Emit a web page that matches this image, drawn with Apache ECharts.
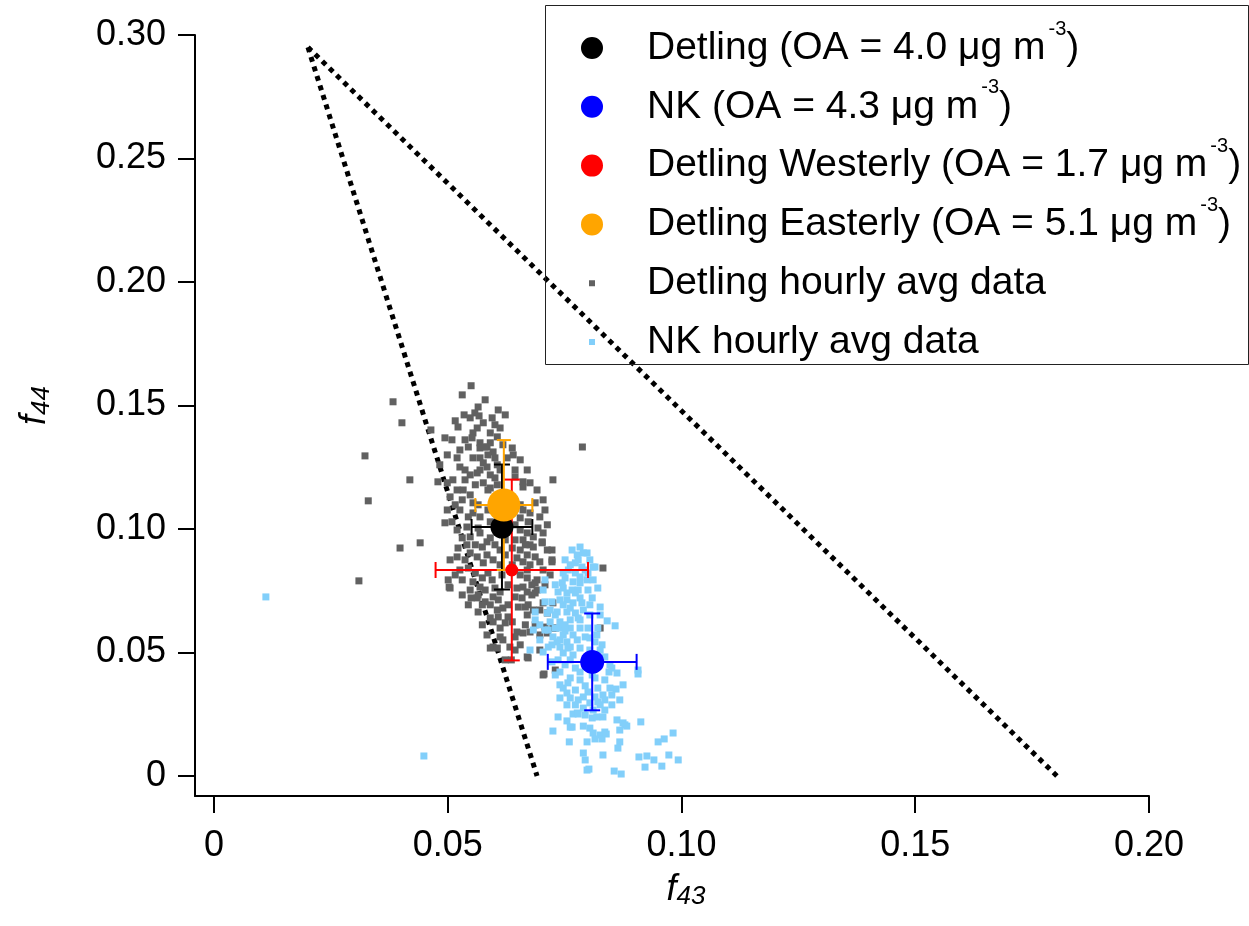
<!DOCTYPE html>
<html><head><meta charset="utf-8">
<script src="https://cdn.jsdelivr.net/npm/echarts@6/dist/echarts.min.js"></script>
<style>html,body{margin:0;padding:0;background:#fff}#c{width:1249px;height:926px}</style>
</head><body><div id="c"></div>
<script>
// ---------- data ----------
const xTicks = [0, 0.05, 0.10, 0.15, 0.20];
const yTicks = [0, 0.05, 0.10, 0.15, 0.20, 0.25, 0.30];
const legendNames = [
  'Detling (OA = 4.0 μg m-3)', 'NK (OA = 4.3 μg m-3)',
  'Detling Westerly (OA = 1.7 μg m-3)', 'Detling Easterly (OA = 5.1 μg m-3)',
  'Detling hourly avg data', 'NK hourly avg data'];
// mean [f43, f44] and error [xerr, yerr]
const detlingMean = [0.0616, 0.1008], detlingErr = [0.0065, 0.0253];
const nkMean = [0.0809, 0.0462], nkErr = [0.0095, 0.0196];
const westMean = [0.0637, 0.0834], westErr = [0.0163, 0.0366];
const eastMean = [0.0620, 0.1097], eastErr = [0.0061, 0.0263];
// triangle boundary lines
const triApex = [0.0201, 0.295];
const triLeftBase = [0.0691, 0];
const triRightBase = [0.1803, 0];

const detlingHourly = [
[0.0550,0.1580],[0.0383,0.1515],[0.0565,0.1494],[0.0402,0.1430],[0.0535,0.1462],[0.0558,0.1470],[0.0567,0.1458],[0.0623,0.1462],
[0.0516,0.1438],[0.0522,0.1413],[0.0464,0.1401],[0.0576,0.1430],[0.0601,0.1422],[0.0612,0.1409],[0.0563,0.1409],[0.0554,0.1389],
[0.0591,0.1389],[0.0606,0.1373],[0.0494,0.1369],[0.0552,0.1369],[0.0569,0.1349],[0.0591,0.1349],[0.0584,0.1332],[0.0544,0.1332],
[0.0569,0.1328],[0.0638,0.1328],[0.0640,0.1300],[0.0597,0.1312],[0.0601,0.1288],[0.0520,0.1288],[0.0569,0.1288],[0.0576,0.1268],
[0.0627,0.1288],[0.0526,0.1251],[0.0537,0.1239],[0.0569,0.1239],[0.0584,0.1251],[0.0644,0.1239],[0.0548,0.1219],[0.0563,0.1227],
[0.0591,0.1219],[0.0601,0.1207],[0.0419,0.1199],[0.0479,0.1191],[0.0661,0.1191],[0.0644,0.1211],[0.0499,0.1187],[0.0533,0.1158],
[0.0548,0.1138],[0.0531,0.1118],[0.0554,0.1106],[0.0576,0.1187],[0.0591,0.1166],[0.0606,0.1179],[0.0661,0.1170],[0.0676,0.1187],
[0.0691,0.1158],[0.0505,0.1130],[0.0516,0.1098],[0.0499,0.1077],[0.0494,0.1025],[0.0509,0.1029],[0.0554,0.1065],[0.0569,0.1049],
[0.0661,0.1077],[0.0676,0.1065],[0.0655,0.1045],[0.0697,0.1049],[0.0713,0.1017],[0.0520,0.0996],[0.0541,0.1008],[0.0531,0.0964],
[0.0548,0.0968],[0.0541,0.0936],[0.0569,0.0984],[0.0584,0.0948],[0.0574,0.0927],[0.0591,0.0964],[0.0601,0.0936],[0.0655,0.0996],
[0.0670,0.0984],[0.0683,0.0968],[0.0661,0.0956],[0.0676,0.0936],[0.0702,0.0948],[0.0713,0.0915],[0.0723,0.0875],[0.0548,0.0903],
[0.0563,0.0887],[0.0537,0.0875],[0.0584,0.0895],[0.0597,0.0875],[0.0576,0.0863],[0.0655,0.0915],[0.0670,0.0895],[0.0687,0.0887],
[0.0661,0.0867],[0.0676,0.0855],[0.0526,0.0834],[0.0559,0.0822],[0.0574,0.0802],[0.0554,0.0786],[0.0586,0.0822],[0.0595,0.0794],
[0.0655,0.0814],[0.0670,0.0802],[0.0691,0.0794],[0.0680,0.0774],[0.0661,0.0765],[0.0704,0.0834],[0.0719,0.0814],[0.0501,0.0794],
[0.0441,0.0944],[0.0505,0.0761],[0.0563,0.0721],[0.0580,0.0705],[0.0597,0.0725],[0.0608,0.0713],[0.0591,0.0693],[0.0606,0.0672],
[0.0618,0.0680],[0.0629,0.0693],[0.0648,0.0761],[0.0670,0.0745],[0.0659,0.0721],[0.0680,0.0733],[0.0691,0.0753],[0.0651,0.0684],
[0.0672,0.0693],[0.0683,0.0672],[0.0697,0.0672],[0.0713,0.0660],[0.0591,0.0640],[0.0608,0.0644],[0.0629,0.0644],[0.0597,0.0624],
[0.0638,0.0624],[0.0666,0.0612],[0.0648,0.0583],[0.0661,0.0579],[0.0676,0.0583],[0.0697,0.0571],[0.0713,0.0579],[0.0730,0.0599],
[0.0644,0.0563],[0.0618,0.0551],[0.0597,0.0522],[0.0606,0.0518],[0.0633,0.0522],[0.0672,0.0478],[0.0704,0.0409],[0.0730,0.0429],
[0.0591,0.0518],[0.0788,0.1332],[0.0725,0.1199],[0.0398,0.0923],[0.0503,0.0765],[0.0310,0.0790],[0.0323,0.1296],[0.0330,0.1114],
[0.0666,0.0936],[0.0683,0.0927],[0.0702,0.0944],[0.0723,0.0915],[0.0723,0.0867],[0.0832,0.0842],[0.0687,0.0782],[0.0687,0.0741],
[0.0666,0.0684],[0.0704,0.0701],[0.0725,0.0701],[0.0708,0.0603],[0.0725,0.0599],[0.0826,0.0599],[0.0670,0.0482],[0.0706,0.0413],
[0.0623,0.1138],[0.0638,0.1118],[0.0633,0.1069],[0.0644,0.1017],[0.0623,0.0956],[0.0638,0.0923],[0.0623,0.0895],[0.0638,0.0855],
[0.0616,0.0814],[0.0629,0.0774],[0.0612,0.0745],[0.0580,0.0753],[0.0548,0.0753],[0.0531,0.0733],[0.0544,0.0693],[0.0565,0.0664],
[0.0574,0.0612],[0.0584,0.0571],[0.0612,0.0599],[0.0623,0.0470],[0.0586,0.1158],[0.0511,0.1199],[0.0526,0.1077],[0.0522,0.0923],
[0.0505,0.0875],[0.0516,0.0814],[0.0483,0.1260],[0.0509,0.1361],[0.0580,0.1523],[0.0608,0.1482],[0.0531,0.1543],[0.0618,0.1341],
[0.0655,0.1280],[0.0670,0.1239],[0.0704,0.1118],[0.0708,0.1077],[0.0693,0.1004],[0.0565,0.0733],[0.0644,0.0510],
[0.0537,0.1361],[0.0586,0.1300],[0.0554,0.1288],[0.0606,0.1260],[0.0559,0.1179],[0.0537,0.1199],[0.0612,0.1239],[0.0520,0.1158],
[0.0565,0.1098],[0.0586,0.1077],[0.0544,0.1049],[0.0591,0.1029],[0.0565,0.1004],[0.0644,0.0956],[0.0655,0.1098],[0.0687,0.1106],
[0.0672,0.1029],[0.0704,0.0984],[0.0559,0.0936],[0.0520,0.0887],[0.0612,0.0915],[0.0648,0.0883],[0.0697,0.0867],[0.0544,0.0842],
[0.0612,0.0855],[0.0670,0.0834],[0.0708,0.0774],[0.0531,0.0794],[0.0569,0.0765],[0.0601,0.0761],[0.0644,0.0725],[0.0670,0.0652],
[0.0623,0.0620],[0.0574,0.0693],[0.0550,0.0721],[0.0687,0.0612],[0.0655,0.0531],[0.0697,0.0510],[0.0612,0.0563],[0.0636,0.0470],
[0.0580,0.1332],[0.0526,0.1320],[0.0499,0.1300],[0.0595,0.1450],[0.0548,0.1450]
];

const nkHourly = [
[0.0111,0.0725],[0.0449,0.0081],[0.0766,0.0915],[0.0783,0.0927],[0.0798,0.0903],[0.0777,0.0895],[0.0790,0.0903],[0.0815,0.0846],
[0.0762,0.0855],[0.0773,0.0863],[0.0787,0.0846],[0.0758,0.0834],[0.0794,0.0834],[0.0747,0.0822],[0.0773,0.0822],[0.0783,0.0806],
[0.0798,0.0794],[0.0745,0.0782],[0.0768,0.0786],[0.0783,0.0782],[0.0747,0.0761],[0.0766,0.0753],[0.0779,0.0753],[0.0736,0.0745],
[0.0755,0.0741],[0.0773,0.0741],[0.0704,0.0753],[0.0708,0.0705],[0.0723,0.0705],[0.0755,0.0713],[0.0783,0.0721],[0.0809,0.0721],
[0.0747,0.0693],[0.0768,0.0701],[0.0787,0.0701],[0.0826,0.0684],[0.0734,0.0664],[0.0755,0.0664],[0.0773,0.0660],[0.0790,0.0672],
[0.0713,0.0660],[0.0730,0.0652],[0.0719,0.0624],[0.0740,0.0624],[0.0762,0.0632],[0.0783,0.0632],[0.0841,0.0628],[0.0858,0.0608],
[0.0683,0.0591],[0.0740,0.0599],[0.0762,0.0599],[0.0783,0.0599],[0.0821,0.0599],[0.0725,0.0563],[0.0747,0.0571],[0.0768,0.0571],
[0.0794,0.0563],[0.0819,0.0571],[0.0734,0.0543],[0.0755,0.0543],[0.0777,0.0551],[0.0740,0.0522],[0.0762,0.0522],[0.0830,0.0531],
[0.0826,0.0510],[0.0715,0.0522],[0.0704,0.0502],[0.0676,0.0510],[0.0747,0.0498],[0.0768,0.0490],[0.0811,0.0846],[0.0836,0.0482],
[0.0851,0.0437],[0.0862,0.0417],[0.0907,0.0429],[0.0907,0.0413],[0.0875,0.0369],[0.0860,0.0352],[0.0832,0.0328],[0.0836,0.0308],
[0.0821,0.0300],[0.0740,0.0369],[0.0755,0.0336],[0.0762,0.0316],[0.0777,0.0255],[0.0794,0.0247],[0.0809,0.0235],[0.0819,0.0239],
[0.0832,0.0239],[0.0736,0.0239],[0.0755,0.0223],[0.0766,0.0198],[0.0790,0.0202],[0.0804,0.0194],[0.0811,0.0174],[0.0826,0.0166],
[0.0836,0.0178],[0.0862,0.0227],[0.0875,0.0215],[0.0883,0.0202],[0.0913,0.0219],[0.0725,0.0182],[0.0760,0.0138],[0.0798,0.0138],
[0.0815,0.0150],[0.0830,0.0150],[0.0868,0.0138],[0.0864,0.0113],[0.0790,0.0093],[0.0794,0.0065],[0.0798,0.0024],[0.0802,0.0028],
[0.0832,0.0085],[0.0856,0.0020],[0.0871,0.0008],[0.0909,0.0077],[0.0926,0.0081],[0.0941,0.0065],[0.0922,0.0036],[0.0958,0.0040],
[0.0950,0.0138],[0.0963,0.0150],[0.0982,0.0174],[0.0973,0.0085],[0.0993,0.0065],[0.0768,0.0251],[0.0779,0.0251],[0.0839,0.0170],
[0.0762,0.0198],[0.0879,0.0207],[0.0868,0.0186],[0.0736,0.0470],[0.0751,0.0450],[0.0773,0.0437],[0.0794,0.0462],[0.0826,0.0462],
[0.0740,0.0421],[0.0762,0.0397],[0.0783,0.0389],[0.0815,0.0397],[0.0836,0.0389],[0.0747,0.0356],[0.0773,0.0348],[0.0800,0.0340],
[0.0821,0.0356],[0.0779,0.0308],[0.0804,0.0296],[0.0790,0.0275],[0.0773,0.0288],[0.0757,0.0518],[0.0804,0.0510],[0.0815,0.0543],
[0.0800,0.0599],[0.0804,0.0652],[0.0815,0.0490],[0.0847,0.0450],[0.0730,0.0409],[0.0723,0.0462],[0.0751,0.0587],[0.0730,0.0599],
[0.0697,0.0551],[0.0715,0.0591],[0.0697,0.0612],[0.0687,0.0664],[0.0708,0.0794],[0.0730,0.0774],[0.0751,0.0875],[0.0804,0.0875],
[0.0779,0.0875],[0.0800,0.0753],[0.0762,0.0680],[0.0826,0.0652],[0.0740,0.0316],[0.0826,0.0288],[0.0851,0.0288],[0.0851,0.0328],
[0.0868,0.0308],[0.0687,0.0632],
[0.0751,0.0802],[0.0800,0.0822],[0.0740,0.0713],[0.0804,0.0693],[0.0719,0.0672],[0.0779,0.0640],[0.0751,0.0612],[0.0804,0.0559],
[0.0783,0.0518],[0.0740,0.0551],[0.0762,0.0470],[0.0783,0.0421],[0.0809,0.0409],[0.0845,0.0421],[0.0757,0.0377],[0.0794,0.0365],
[0.0847,0.0356],[0.0815,0.0320],[0.0790,0.0320],[0.0755,0.0288],[0.0811,0.0267],[0.0836,0.0267],[0.0723,0.0531],[0.0708,0.0591],
[0.0821,0.0761],[0.0811,0.0794]
];

// ---------- chart ----------
const chart = echarts.init(document.getElementById('c'), null, {renderer: 'canvas'});
const FONT = 'Liberation Sans, Arial, sans-serif';

function errBar(color, capHalf) {
  return function (params, api) {
    const x = api.value(0), y = api.value(1), ex = api.value(2), ey = api.value(3);
    const l = api.coord([x - ex, y]), r = api.coord([x + ex, y]);
    const t = api.coord([x, y + ey]), b = api.coord([x, y - ey]);
    const st = {stroke: color, lineWidth: 2, fill: null};
    const ln = (x1, y1, x2, y2) => ({type: 'line', shape: {x1, y1, x2, y2}, style: st});
    return {type: 'group', children: [
      ln(l[0], l[1], r[0], r[1]), ln(t[0], t[1], b[0], b[1]),
      ln(l[0], l[1] - capHalf, l[0], l[1] + capHalf), ln(r[0], r[1] - capHalf, r[0], r[1] + capHalf),
      ln(t[0] - capHalf, t[1], t[0] + capHalf, t[1]), ln(b[0] - capHalf, b[1], b[0] + capHalf, b[1])
    ]};
  };
}
function errSeries(name, mean, err, color, capHalf) {
  return {name, type: 'custom', renderItem: errBar(color, capHalf), data: [[mean[0], mean[1], err[0], err[1]]],
    encode: {x: 0, y: 1}, z: 3, silent: true};
}

const corners = 'M0,0L0.01,0L0,0.01Z M100,22L99.99,22L100,21.99Z ';
const circIcon = 'path://' + corners + 'M61.5,11A11.5,11.5 0 1,1 38.5,11A11.5,11.5 0 1,1 61.5,11Z';
const sqIcon = 'path://' + corners + 'M47,8h6v6h-6Z';

function legendFmt(name) {
  const m = name.match(/^(.*)-3\)$/);
  if (m) return '{t|' + m[1] + '}{s|-3}{t|)}';
  return '{t|' + name + '}';
}

const option = {
  animation: false,
  backgroundColor: '#fff',
  grid: {left: 195, right: 100, top: 35, bottom: 130, containLabel: false},
  xAxis: {
    type: 'value', min: -0.00406, max: 0.20,
    name: '{f|f}{sub|43}', nameLocation: 'middle', nameGap: 74,
    nameTextStyle: {padding: [0, 0, 0, 28], rich: {
      f: {fontFamily: FONT, fontSize: 36, fontStyle: 'italic', color: '#000', lineHeight: 40},
      sub: {fontFamily: FONT, fontSize: 26, fontStyle: 'italic', color: '#000', verticalAlign: 'bottom', lineHeight: 1}}},
    axisLine: {onZero: false, lineStyle: {color: '#000', width: 2}},
    axisTick: {show: true, inside: false, length: 17, lineStyle: {color: '#000', width: 2}, customValues: xTicks},
    axisLabel: {customValues: xTicks, margin: 32, fontFamily: FONT, fontSize: 36, color: '#000',
      formatter: v => v === 0 ? '0' : v.toFixed(2)},
    splitLine: {show: false}
  },
  yAxis: {
    type: 'value', min: -0.0081, max: 0.30,
    name: '{f|f}{sub|44}', nameLocation: 'middle', nameGap: 140, nameRotate: 90,
    nameTextStyle: {padding: [0, 0, 0, 20], rich: {
      f: {fontFamily: FONT, fontSize: 36, fontStyle: 'italic', color: '#000', lineHeight: 40},
      sub: {fontFamily: FONT, fontSize: 26, fontStyle: 'italic', color: '#000', verticalAlign: 'bottom', lineHeight: 1}}},
    axisLine: {onZero: false, lineStyle: {color: '#000', width: 2}},
    axisTick: {show: true, inside: false, length: 17, lineStyle: {color: '#000', width: 2}, customValues: yTicks},
    axisLabel: {customValues: yTicks, margin: 29, fontFamily: FONT, fontSize: 36, color: '#000',
      formatter: v => v === 0 ? '0' : v.toFixed(2)},
    splitLine: {show: false}
  },
  legend: {
    data: legendNames.map((n, i) => ({name: n, icon: i < 4 ? circIcon : sqIcon})),
    orient: 'vertical', left: 542, top: 19, padding: 0, itemGap: 0.8,
    itemWidth: 100, itemHeight: 22, selectedMode: false,
    formatter: legendFmt,
    textStyle: {fontFamily: FONT, fontSize: 39, color: '#000', lineHeight: 58, rich: {
      t: {fontFamily: FONT, fontSize: 39, color: '#000', lineHeight: 58},
      s: {fontFamily: FONT, fontSize: 20, color: '#000', verticalAlign: 'top', lineHeight: 20, padding: [0, 0, 0, 3]}
    }}
  },
  graphic: [{type: 'rect', left: 545, top: 5, shape: {width: 703, height: 359},
    style: {fill: 'rgba(255,255,255,0)', stroke: '#222', lineWidth: 1}, z: 100, silent: true}],
  series: [
    {name: 'triLeft', type: 'line', data: [triApex, triLeftBase], symbol: 'none', z: 1, silent: true,
      lineStyle: {color: '#000', width: 5, type: [5, 5], cap: 'butt'}},
    {name: 'triRight', type: 'line', data: [triApex, triRightBase], symbol: 'none', z: 1, silent: true,
      lineStyle: {color: '#000', width: 5, type: [5, 5], cap: 'butt'}},
    {name: legendNames[4], type: 'scatter', data: detlingHourly, symbol: 'rect', symbolSize: 7, z: 2,
      itemStyle: {color: '#616161', opacity: 1}},
    {name: legendNames[5], type: 'scatter', data: nkHourly, symbol: 'rect', symbolSize: 7, z: 2,
      itemStyle: {color: '#82cffa', opacity: 1}},
    errSeries('westErr', westMean, westErr, '#ff0000', 8),
    {name: legendNames[2], type: 'scatter', data: [westMean], symbol: 'circle', symbolSize: 13, z: 3,
      itemStyle: {color: '#ff0000', opacity: 1}},
    errSeries('detErr', detlingMean, detlingErr, '#000000', 8),
    {name: legendNames[0], type: 'scatter', data: [detlingMean], symbol: 'circle', symbolSize: 23, z: 3,
      itemStyle: {color: '#000000', opacity: 1}},
    errSeries('eastErr', eastMean, eastErr, '#ffa500', 7),
    {name: legendNames[3], type: 'scatter', data: [eastMean], symbol: 'circle', symbolSize: 33, z: 3,
      itemStyle: {color: '#ffa500', opacity: 1}},
    errSeries('nkErr', nkMean, nkErr, '#0000ff', 8),
    {name: legendNames[1], type: 'scatter', data: [nkMean], symbol: 'circle', symbolSize: 24, z: 3,
      itemStyle: {color: '#0000ff', opacity: 1}}
  ]
};
chart.setOption(option);
</script>
</body></html>
